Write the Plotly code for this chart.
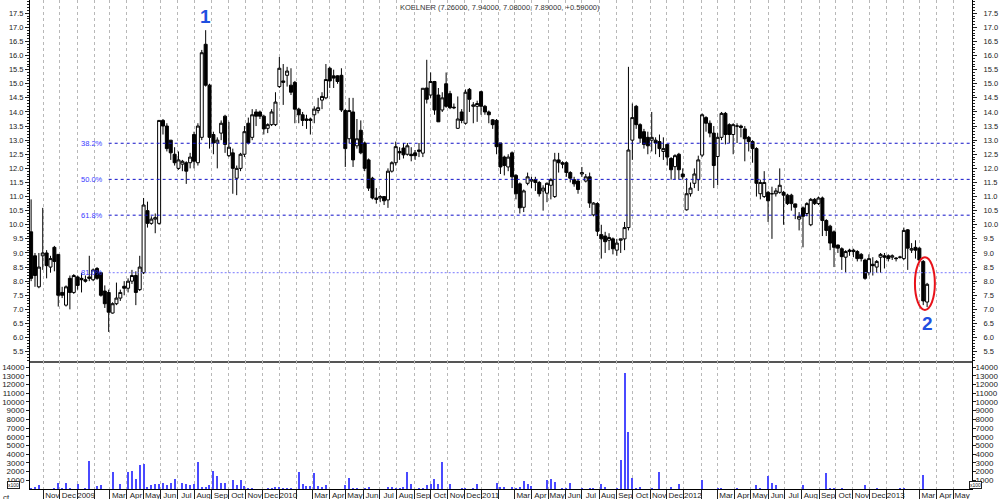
import plotly.graph_objects as go
import pandas as pd

# ---------------- data (weekly bars) ----------------
dates = pd.date_range("2008-10-10", periods=232, freq="7D")

opens = [
    9.75, 8.9, 7.8, 8.9, 9.0, 8.5, 9.2, 8.95, 7.6, 7.15,
    8.1, 7.6, 8.15, 8.1, 8.05, 8.15, 8.05, 8.45, 8.3, 7.65,
    7.6, 6.87, 7.2, 7.4, 7.82, 7.75, 8.0, 8.2, 7.7, 8.3,
    10.5, 10.05, 10.2, 10.05, 13.7, 13.5, 13.0, 12.5, 12.0, 12.15,
    12.2, 12.2, 13.2, 12.2, 13.1, 16.4, 14.95, 13.2, 12.9, 13.25,
    13.85, 12.45, 12.55, 11.65, 12.0, 12.5, 13.6, 13.1, 14.0, 14.0,
    13.85, 13.42, 13.55, 13.55, 14.9, 15.1, 15.3, 14.95, 15.05, 14.1,
    13.9, 13.75, 13.75, 13.9, 14.05, 14.42, 14.5, 15.55, 15.28, 15.28,
    15.3, 14.05, 13.05, 14.0, 12.8, 13.35, 12.9, 12.3, 11.65, 10.95,
    10.95, 11.0, 10.88, 11.9, 12.2, 12.6, 12.72, 12.5, 12.5, 12.55,
    12.6, 12.54, 14.85, 14.6, 15.08, 14.6, 14.07, 15.0, 14.65, 14.17,
    13.42, 14.0, 13.6, 14.8, 14.2, 14.2, 14.72, 14.2, 14.0, 13.72,
    13.7, 12.9, 12.4, 12.05, 12.55, 11.75, 11.45, 10.62, 11.47, 11.55,
    11.6, 11.5, 11.2, 11.12, 11.4, 11.0, 12.3, 12.2, 12.2, 11.85,
    11.6, 11.55, 11.8, 11.55, 11.7, 10.35, 10.75, 9.65, 9.6, 9.45,
    9.5, 9.1, 9.45, 9.5, 9.9, 13.0, 14.2, 13.55, 13.3, 13.1,
    13.0, 13.0, 12.95, 12.6, 12.85, 12.35, 12.06, 12.5, 11.8, 10.53,
    11.1, 11.47, 11.6, 12.47, 13.8, 13.6, 13.25, 12.42, 13.1, 13.95,
    13.55, 13.2, 13.5, 13.5, 13.4, 13.1, 12.95, 12.7, 11.1, 11.0,
    11.15, 11.1, 11.1, 11.15, 11.15, 11.05, 11.05, 10.74, 10.2, 10.6,
    10.4, 10.0, 10.9, 10.75, 10.95, 10.15, 9.95, 9.75, 9.28, 9.15,
    8.85, 9.05, 9.1, 9.05, 8.95, 8.75, 8.3, 8.6, 8.5, 8.85,
    8.9, 8.9, 8.85, 8.82, 8.85, 8.8, 9.82, 9.1, 9.2, 9.17,
    8.7, 7.26,
]
highs = [
    10.9, 9.0, 9.0, 10.6, 9.1, 8.9, 9.25, 8.95, 7.8, 7.85,
    8.2, 8.25, 8.2, 8.3, 8.2, 8.9, 8.45, 8.5, 8.3, 7.85,
    7.7, 7.25, 7.95, 7.7, 8.0, 8.1, 8.4, 8.35, 8.9, 10.95,
    10.82, 10.3, 10.4, 13.7, 13.75, 13.6, 13.0, 12.75, 12.6, 12.3,
    12.25, 12.55, 13.3, 13.6, 16.2, 16.9, 15.0, 13.3, 13.1, 13.7,
    13.9, 13.65, 12.7, 12.1, 12.55, 13.5, 13.8, 14.1, 14.1, 14.05,
    13.9, 13.6, 14.1, 14.7, 15.95, 15.7, 15.6, 15.55, 15.1, 14.15,
    14.0, 13.9, 13.8, 14.2, 14.5, 14.7, 15.7, 15.6, 15.5, 15.3,
    15.55, 14.1, 14.5, 14.5, 13.75, 13.7, 12.95, 12.35, 11.7, 11.3,
    11.05, 11.0, 12.0, 12.25, 12.95, 12.75, 12.9, 12.9, 12.75, 12.65,
    12.9, 14.84, 15.85, 15.4, 15.1, 14.85, 14.7, 15.4, 14.75, 14.3,
    14.55, 14.1, 14.8, 14.85, 14.35, 14.4, 14.75, 14.25, 14.05, 13.75,
    13.75, 12.9, 12.45, 12.5, 12.6, 11.8, 11.5, 11.25, 11.85, 11.7,
    11.7, 11.55, 11.4, 11.5, 11.65, 12.55, 12.55, 12.25, 12.25, 11.9,
    11.7, 11.6, 12.05, 11.8, 11.85, 10.8, 10.8, 10.0, 9.75, 9.7,
    9.55, 9.5, 9.5, 10.1, 15.6, 14.3, 14.25, 13.6, 13.4, 13.3,
    14.0, 13.1, 13.2, 13.1, 12.85, 12.4, 12.5, 12.55, 12.0, 11.65,
    11.5, 12.0, 12.45, 13.95, 13.85, 13.7, 13.5, 13.25, 14.0, 14.0,
    13.6, 13.6, 13.6, 13.55, 13.5, 13.15, 13.0, 12.75, 11.6, 11.9,
    11.2, 11.35, 11.3, 12.0, 11.2, 11.1, 11.1, 10.75, 10.45, 10.65,
    10.8, 10.95, 10.95, 11.0, 11.0, 10.2, 10.0, 9.8, 9.3, 9.2,
    9.1, 9.15, 9.15, 9.1, 9.0, 8.8, 8.95, 8.85, 8.75, 9.0,
    9.0, 8.95, 8.95, 8.85, 8.9, 9.9, 9.85, 9.35, 9.45, 9.2,
    8.75, 7.94,
]
lows = [
    8.0, 7.8, 7.75, 8.4, 8.1, 8.3, 8.35, 7.1, 7.4, 7.1,
    7.0, 7.55, 7.7, 7.6, 7.95, 8.0, 8.0, 8.05, 7.45, 7.05,
    6.2, 6.85, 7.15, 7.3, 7.5, 7.6, 7.9, 7.15, 7.65, 8.25,
    9.9, 10.0, 9.7, 10.0, 13.2, 12.6, 12.3, 12.1, 11.95, 11.9,
    11.45, 12.0, 12.0, 12.1, 13.0, 14.9, 12.7, 12.5, 12.0, 13.0,
    12.55, 12.4, 11.1, 11.05, 11.9, 12.4, 12.85, 13.0, 13.5, 13.75,
    13.2, 13.25, 13.5, 13.5, 14.85, 14.25, 14.9, 14.6, 13.6, 13.6,
    13.5, 13.4, 13.2, 13.6, 13.95, 14.1, 14.45, 14.85, 14.85, 15.0,
    14.0, 12.05, 12.9, 12.05, 12.7, 12.5, 11.9, 11.2, 10.9, 10.75,
    10.8, 10.7, 10.6, 11.85, 12.1, 12.3, 12.35, 12.45, 12.25, 12.3,
    12.4, 12.4, 14.3, 14.5, 13.9, 13.65, 14.0, 14.15, 14.1, 14.1,
    13.4, 13.6, 13.55, 14.0, 13.6, 13.65, 13.9, 13.9, 13.6, 13.4,
    12.5, 11.8, 11.75, 11.9, 11.3, 10.9, 10.4, 10.45, 11.4, 11.3,
    11.2, 11.0, 10.5, 10.8, 10.9, 10.95, 11.85, 12.0, 11.7, 11.5,
    11.35, 11.1, 11.7, 11.5, 10.6, 10.3, 9.6, 8.8, 9.0, 9.1,
    8.95, 8.9, 9.0, 9.1, 9.8, 12.3, 13.4, 12.9, 12.7, 12.5,
    12.6, 12.5, 12.4, 12.3, 12.1, 11.6, 11.6, 11.6, 11.6, 10.5,
    11.0, 11.3, 11.2, 12.4, 13.3, 13.1, 11.3, 11.4, 13.0, 12.85,
    12.9, 12.5, 12.9, 13.1, 12.25, 12.6, 12.2, 11.0, 10.9, 10.95,
    10.1, 9.5, 11.0, 11.1, 10.0, 10.7, 10.5, 10.2, 9.8, 9.2,
    10.3, 9.95, 10.7, 10.7, 9.6, 9.6, 9.1, 8.5, 9.0, 8.4,
    8.3, 8.9, 8.85, 8.7, 8.7, 8.05, 8.2, 8.2, 8.3, 8.3,
    8.45, 8.7, 8.75, 8.7, 8.8, 8.75, 8.4, 9.0, 8.8, 8.7,
    7.15, 7.08,
]
closes = [
    8.1, 8.2, 8.5, 9.0, 8.55, 8.8, 8.7, 7.5, 7.5, 7.8,
    7.6, 8.2, 7.85, 8.05, 8.0, 8.1, 8.4, 8.1, 7.5, 7.2,
    6.9, 7.2, 7.4, 7.6, 7.75, 8.0, 8.2, 7.6, 8.5, 10.7,
    10.05, 10.2, 10.25, 13.7, 13.5, 12.7, 12.55, 12.2, 12.3, 12.25,
    11.9, 12.4, 12.25, 13.5, 16.1, 14.95, 13.1, 12.9, 13.0, 13.6,
    12.85, 12.75, 12.0, 12.0, 12.5, 13.3, 12.9, 13.9, 13.85, 13.85,
    13.4, 13.55, 14.0, 14.35, 15.55, 15.05, 15.45, 14.7, 14.1, 13.9,
    13.7, 13.7, 13.7, 14.1, 14.15, 14.55, 15.15, 15.1, 15.2, 15.08,
    14.07, 12.7, 14.05, 12.3, 13.05, 12.55, 12.0, 11.3, 10.95, 10.9,
    11.0, 10.85, 11.9, 12.2, 12.77, 12.55, 12.48, 12.8, 12.45, 12.45,
    12.65, 14.84, 14.45, 15.08, 14.07, 13.65, 14.5, 14.2, 14.15, 14.15,
    13.75, 13.7, 14.7, 14.45, 14.25, 14.3, 14.2, 14.0, 13.9, 13.55,
    12.77, 12.05, 12.1, 12.4, 11.7, 11.1, 10.6, 11.2, 11.7, 11.6,
    11.5, 11.1, 11.3, 11.47, 11.6, 12.3, 12.2, 12.15, 11.85, 11.65,
    11.45, 11.25, 11.85, 11.7, 10.77, 10.77, 9.77, 9.5, 9.4, 9.55,
    9.15, 9.35, 9.5, 9.9, 12.65, 13.8, 13.55, 13.07, 12.85, 12.8,
    13.1, 12.9, 12.7, 12.7, 12.4, 11.95, 12.45, 11.95, 11.7, 11.1,
    11.3, 11.8, 12.3, 13.9, 13.6, 13.25, 12.1, 13.1, 13.95, 13.2,
    13.2, 13.55, 13.5, 13.45, 13.05, 12.95, 12.7, 11.47, 11.5, 11.5,
    10.85, 11.1, 11.2, 11.4, 11.05, 10.75, 10.75, 10.62, 10.3, 10.3,
    10.75, 10.9, 10.75, 10.95, 10.15, 9.8, 9.35, 9.2, 9.17, 8.87,
    9.05, 9.1, 9.05, 8.8, 8.8, 8.1, 8.8, 8.55, 8.7, 8.95,
    8.85, 8.8, 8.9, 8.8, 8.85, 9.8, 9.17, 9.15, 9.1, 8.75,
    7.30, 7.89,
]
# volume in units of 100 shares (axis label "x100")
volume = [
    150, 270, 460, 0, 0, 0, 80, 730, 150, 730,
    80, 0, 540, 0, 80, 3230, 0, 350, 460, 0,
    0, 2000, 0, 540, 0, 2000, 2080, 1150, 2770, 2880,
    270, 460, 540, 610, 690, 420, 650, 1120, 0, 730,
    540, 500, 580, 3080, 270, 270, 500, 2120, 1460, 730,
    650, 0, 1040, 420, 1000, 350, 150, 150, 0, 0,
    0, 150, 150, 230, 230, 150, 150, 150, 0, 1920,
    580, 350, 380, 1810, 350, 270, 420, 0, 0, 0,
    0, 500, 1270, 150, 80, 0, 80, 230, 0, 0,
    0, 0, 230, 230, 150, 150, 270, 1920, 540, 0,
    150, 150, 500, 540, 1120, 540, 3080, 0, 610, 0,
    0, 150, 150, 0, 150, 540, 0, 0, 0, 0,
    650, 190, 190, 0, 270, 150, 270, 920, 540, 350,
    0, 0, 0, 1040, 1120, 850, 0, 80, 80, 650,
    0, 0, 150, 0, 150, 150, 0, 540, 230, 0,
    0, 150, 3350, 13300, 6500, 1310, 80, 230, 0, 0,
    150, 0, 2000, 0, 0, 230, 0, 540, 0, 0,
    0, 0, 0, 1080, 0, 0, 0, 150, 80, 0,
    0, 0, 80, 0, 0, 0, 0, 460, 150, 0,
    1460, 690, 460, 0, 0, 0, 0, 0, 0, 460,
    0, 0, 0, 0, 0, 1810, 150, 150, 0, 80,
    0, 0, 0, 0, 0, 460, 0, 0, 80, 0,
    0, 0, 0, 0, 150, 80, 0, 0, 0, 0,
    1650, 0,
]

ticker = "KOELNER"
fib_levels = [12.89, 11.61, 10.34, 8.30]
fib_labels = ["38.2%", "50.0%", "61.8%", "81.0%"]
fib_colors = ["#1010c8", "#1010c8", "#1010c8", "#7878ff"]
fib_start_index = 20          # swing low bar the retracement is drawn from
peak_index, mark_index = 45, 231   # bars labelled "1" and "2"

month_starts = pd.date_range("2008-11-01", "2013-05-01", freq="MS")
month_names = ["", "", "Mar", "Apr", "May", "Jun", "Jul", "Aug", "Sep", "Oct", "Nov", "Dec"]
month_text = [str(d.year) if d.month == 1 else month_names[d.month - 1] for d in month_starts]

x_range = ["2008-10-08", "2013-06-04"]
price_range = [5.17, 17.97]
vol_range = [0, 14700]

# ---------------- figure ----------------
FONT = "Liberation Sans, Arial, sans-serif"
split = 0.2618

fig = go.Figure()
fig.add_trace(go.Candlestick(
    x=dates, open=opens, high=highs, low=lows, close=closes,
    increasing=dict(line=dict(color="black", width=1), fillcolor="white"),
    decreasing=dict(line=dict(color="black", width=1), fillcolor="black"),
    whiskerwidth=0, xaxis="x", yaxis="y", showlegend=False,
))
fig.add_trace(go.Bar(
    x=dates, y=volume, xaxis="x2", yaxis="y2", width=2.0 * 86400000,
    marker=dict(color="#4a4aff", line=dict(width=0)), showlegend=False,
))
# invisible companions so the right-hand axes are drawn
fig.add_trace(go.Scatter(x=dates, y=closes, xaxis="x", yaxis="y3", mode="lines",
                         line=dict(width=0), opacity=0, showlegend=False, hoverinfo="skip"))
fig.add_trace(go.Scatter(x=dates, y=volume, xaxis="x2", yaxis="y4", mode="lines",
                         line=dict(width=0), opacity=0, showlegend=False, hoverinfo="skip"))

pfont = dict(family=FONT, size=7.5, color="#222")
vfont = dict(family=FONT, size=8, color="#222")
xcommon = dict(type="date", range=x_range, tickvals=list(month_starts), showgrid=True,
               gridcolor="#b8b8b8", griddash="3px,3px", gridwidth=1, zeroline=False,
               automargin=False)
price_axis = dict(range=price_range, tick0=5.5, dtick=0.5, tickformat=".1f", ticks="outside",
                  ticklen=4, tickcolor="#222", showline=True, linecolor="black", linewidth=1,
                  showgrid=False, zeroline=False, tickfont=pfont, automargin=False,
                  minor=dict(dtick=0.1, ticks="outside", ticklen=2, tickcolor="#222", showgrid=False))
vol_axis = dict(range=vol_range, tickvals=list(range(1000, 14001, 1000)), tickformat="d",
                ticks="outside", ticklen=3, tickcolor="#222", showline=True, linecolor="black",
                linewidth=1, showgrid=False, zeroline=False, tickfont=vfont, automargin=False)

fig.update_layout(
    template="none",
    width=1000, height=499,
    margin=dict(l=30, r=28, t=0, b=10, pad=0),
    paper_bgcolor="white", plot_bgcolor="white",
    font=dict(family=FONT, size=8, color="#222"),
    boxgap=0.12, boxgroupgap=0.12,
    bargap=0, showlegend=False,
    xaxis=dict(**xcommon, anchor="y", domain=[0, 1], showticklabels=False, ticks="",
               showline=True, linecolor="#555", linewidth=1.5, matches="x2",
               rangeslider=dict(visible=False)),
    xaxis2=dict(**xcommon, anchor="y2", domain=[0, 1], ticktext=month_text, ticks="outside",
                ticklen=9, tickcolor="#222", showline=True, linecolor="black", linewidth=1,
                tickangle=0, ticklabelshift=9, ticklabelstandoff=-11, tickfont=vfont),
    yaxis=dict(**price_axis, domain=[split, 1], anchor="x", side="left"),
    yaxis3=dict(**price_axis, overlaying="y", anchor="x", side="right", ticklabelstandoff=5),
    yaxis2=dict(**vol_axis, domain=[0, split], anchor="x2", side="left"),
    yaxis4=dict(**vol_axis, overlaying="y2", anchor="x2", side="right", ticklabelstandoff=-2),
)

# Fibonacci retracement lines and labels
for lvl, lab, col in zip(fib_levels, fib_labels, fib_colors):
    fig.add_shape(type="line", xref="x", yref="y", x0=dates[fib_start_index], x1=x_range[1],
                  y0=lvl, y1=lvl,
                  line=dict(color=col, width=1, dash="3px,3px" if col == fib_colors[0] else "2px,2px"))
    fig.add_annotation(x=dates[fib_start_index], y=lvl, xref="x", yref="y", text=lab,
                       showarrow=False, xanchor="right", xshift=-4,
                       font=dict(family=FONT, size=7.5, color="#3a3aff"))

# red ellipse around the last two bars
ell_center = dates[mark_index] - pd.Timedelta(days=4)
fig.add_shape(type="circle", xref="x", yref="y",
              x0=ell_center - pd.Timedelta(days=18), x1=ell_center + pd.Timedelta(days=18),
              y0=min(lows[mark_index - 1:]) - 0.1, y1=highs[mark_index - 1] + 0.1,
              line=dict(color="#e8121a", width=2))

# wave labels
fig.add_annotation(x=dates[peak_index], y=highs[peak_index], xref="x", yref="y", text="<b>1</b>",
                   showarrow=False, yanchor="bottom", yshift=1,
                   font=dict(family=FONT, size=19, color="#1f4fe0"))
fig.add_annotation(x=dates[mark_index], y=lows[mark_index], xref="x", yref="y", text="<b>2</b>",
                   showarrow=False, yanchor="top", yshift=-4,
                   font=dict(family=FONT, size=19, color="#1f4fe0"))

# title line
prev_close = closes[-2]
title = "{} ({:.5f}, {:.5f}, {:.5f}, {:.5f}, {:+.5f})".format(
    ticker, opens[-1], highs[-1], lows[-1], closes[-1], closes[-1] - prev_close)
fig.add_annotation(x=0.499, y=1, xref="paper", yref="paper", text=title, showarrow=False,
                   yanchor="top", yshift=-1, font=dict(family=FONT, size=7.5, color="#333"))

# "x100" unit boxes and clipped first month label
for xp in (-0.0244, 1.0111):
    fig.add_annotation(x=xp, y=0.0, xref="paper", yref="paper", text="x100", showarrow=False,
                       yanchor="bottom",
                       font=dict(family=FONT, size=5, color="#222"), bordercolor="#222",
                       borderwidth=1, borderpad=0, bgcolor="white")
fig.add_annotation(x=-0.031, y=-0.005, xref="paper", yref="paper", text="ct", showarrow=False,
                   xanchor="left", yanchor="top", font=dict(family=FONT, size=8, color="#222"))

# remove the browser's default page margin so the 1000x499 figure fills the window exactly
fig.write_html("out.html", config={"displayModeBar": False, "staticPlot": False},
               post_script="document.body.style.margin='0';")
